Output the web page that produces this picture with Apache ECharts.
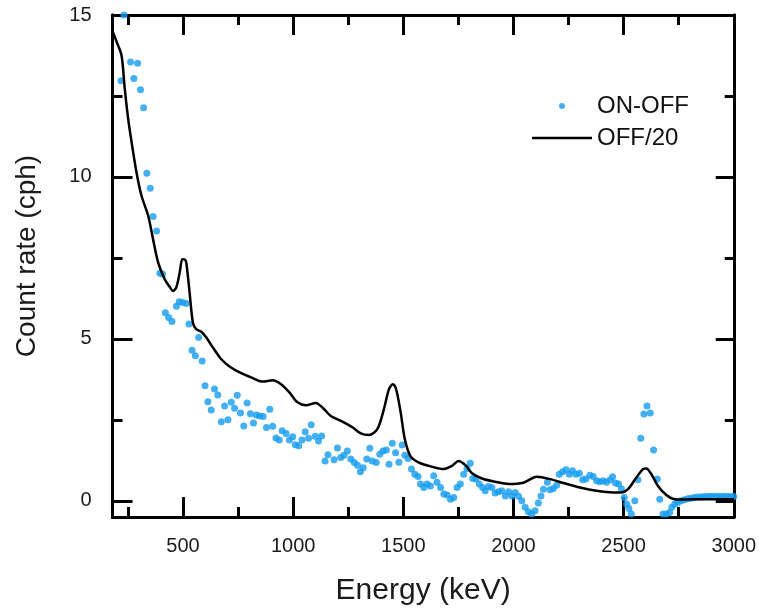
<!DOCTYPE html>
<html>
<head>
<meta charset="utf-8">
<script src="https://cdn.jsdelivr.net/npm/echarts@6/dist/echarts.min.js"></script>
<style>
html,body{margin:0;padding:0;background:#fff;}
#chart{width:759px;height:611px;}
</style>
</head>
<body>
<div id="chart"></div>
<script>
// ON-OFF points: [energy keV, count rate cph]
const onOffEnergy = [219,232,262,277,294,307,321,336,351,364,380,395,407,420,435,450,470,483,498,515,527,541,556,571,587,600,613,628,643,658,674,689,704,719,734,746,761,776,791,806,820,833,848,864,879,894,907,922,937,950,968,983,998,1010,1025,1040,1055,1070,1082,1100,1115,1129,1145,1158,1186,1201,1216,1231,1246,1262,1277,1292,1305,1318,1334,1348,1359,1377,1393,1408,1423,1435,1450,1465,1480,1495,1507,1522,1537,1552,1567,1578,1593,1608,1623,1638,1653,1669,1684,1699,1714,1729,1744,1759,1774,1789,1804,1815,1830,1845,1860,1872,1887,1902,1917,1932,1947,1963,1978,1993,2008,2023,2038,2053,2068,2083,2098,2113,2125,2136,2154,2166,2181,2196,2208,2223,2239,2254,2268,2284,2299,2314,2329,2347,2362,2377,2392,2407,2422,2438,2450,2463,2477,2490,2503,2514,2524,2535,2551,2565,2578,2592,2606,2621,2636,2653,2664,2679,2694,2709,2719,2732,2746,2761,2776,2791,2806,2821,2836,2851,2866,2881,2896,2911,2926,2941,2956,2971,2986,3000];
const onOffRate = [12.97,15.0,13.55,13.04,13.51,12.69,12.14,10.11,9.65,8.78,8.33,7.03,7.0,5.81,5.66,5.54,6.01,6.15,6.12,6.09,5.46,4.65,4.48,5.04,4.32,3.55,3.06,2.80,3.45,3.27,2.44,2.93,2.5,3.04,2.86,3.26,2.71,2.31,3.02,2.69,2.4,2.65,2.62,2.6,2.26,2.83,2.3,1.94,1.88,2.16,2.08,1.88,1.98,1.73,1.70,1.88,2.13,1.93,2.35,1.99,1.85,2.0,1.23,1.42,1.27,1.63,1.34,1.41,1.54,1.29,1.18,1.10,0.9,1.02,1.29,1.62,1.23,1.18,1.44,1.54,1.57,1.13,1.78,1.48,1.19,1.72,1.41,1.31,0.98,0.82,0.75,0.52,0.41,0.52,0.46,0.77,0.57,0.41,0.21,0.18,0.05,0.1,0.41,0.52,0.82,1.0,1.16,0.69,0.67,0.52,0.41,0.31,0.44,0.41,0.24,0.28,0.31,0.15,0.28,0.15,0.26,0.14,0.0,-0.2,-0.34,-0.41,-0.31,-0.07,0.15,0.36,0.57,0.34,0.38,0.48,0.82,0.9,0.96,0.82,0.93,0.82,0.85,0.65,0.67,0.79,0.75,0.62,0.59,0.62,0.57,0.64,0.74,0.55,0.52,0.37,0.1,-0.1,-0.24,-0.41,0.0,0.65,1.93,2.68,2.93,2.71,1.57,0.67,0.05,-0.41,-0.41,-0.36,-0.2,-0.1,-0.05,0.0,0.03,0.06,0.08,0.1,0.12,0.12,0.13,0.13,0.14,0.13,0.14,0.13,0.14,0.13,0.13,0.13];

// OFF/20 curve: [energy keV, count rate cph]
const offEnergy = [183,200,221,236,251,267,289,312,342,364,387,417,440,455,470,485,497,508,515,530,545,560,583,606,636,674,711,764,809,862,907,945,983,1020,1058,1103,1133,1171,1216,1269,1307,1344,1382,1412,1435,1453,1468,1488,1507,1533,1571,1631,1684,1721,1751,1782,1812,1857,1917,1978,2045,2106,2166,2226,2302,2377,2452,2491,2520,2558,2588,2603,2626,2656,2694,2732,2777,2882,3000];
const offRate = [14.45,14.15,13.75,12.7,11.8,11.06,10.14,9.41,8.8,8.08,7.36,6.84,6.6,6.48,6.6,7.05,7.46,7.45,7.35,6.43,5.5,5.3,5.22,5.04,4.73,4.37,4.15,3.94,3.81,3.68,3.72,3.6,3.35,3.04,2.95,3.02,2.88,2.62,2.47,2.27,2.08,2.03,2.21,2.83,3.45,3.6,3.43,2.73,1.9,1.37,1.18,1.05,0.98,1.08,1.23,1.1,0.85,0.69,0.59,0.52,0.56,0.74,0.67,0.55,0.41,0.31,0.26,0.26,0.36,0.72,0.98,1.0,0.82,0.46,0.18,0.05,0.04,0.05,0.05];

const xTickLabels = [500,1000,1500,2000,2500,3000];
const xMajorTicks = [500,1000,1500,2000,2500];
const xMinorTicks = [250,750,1250,1750,2250,2750];
const yTickLabels = [0,5,10,15];
const yMajorTicks = [0,5,10];
const yMinorTicks = [2.5,7.5,12.5];

const FONT = 'Liberation Sans, Arial, sans-serif';
const X_MIN = 180, X_MAX = 3000, Y_MIN = -0.5, Y_MAX = 15;
const plain = v => String(v);

function xAx(pos, ticks, len, labels, extra) {
  return Object.assign({
    type: 'value', position: pos, min: X_MIN, max: X_MAX,
    axisLine: {show: true, onZero: false, lineStyle: {color: '#000', width: 3}},
    axisTick: {show: true, inside: true, length: len, customValues: ticks, lineStyle: {color: '#000', width: 3}},
    axisLabel: labels ? {show: true, customValues: labels, formatter: plain, fontSize: 20, color: '#1a1a1a', fontFamily: FONT, margin: 19} : {show: false},
    splitLine: {show: false}
  }, extra || {});
}
function yAx(pos, ticks, len, labels, extra) {
  return Object.assign({
    type: 'value', position: pos, min: Y_MIN, max: Y_MAX,
    axisLine: {show: true, onZero: false, lineStyle: {color: '#000', width: 3}},
    axisTick: {show: true, inside: true, length: len, customValues: ticks, lineStyle: {color: '#000', width: 3}},
    axisLabel: labels ? {show: true, customValues: labels, formatter: plain, fontSize: 20, color: '#1a1a1a', fontFamily: FONT, margin: 21} : {show: false},
    splitLine: {show: false}
  }, extra || {});
}

const chart = echarts.init(document.getElementById('chart'), null, {renderer: 'canvas'});
chart.setOption({
  animation: false,
  backgroundColor: '#fff',
  grid: {left: 112.5, top: 15, width: 623.5, height: 503, containLabel: false},
  legend: {
    orient: 'vertical', left: 527, top: 89,
    itemWidth: 60, itemHeight: 6, itemGap: 8,
    textStyle: {fontSize: 24, lineHeight: 24, color: '#111', fontFamily: FONT},
    data: [
      {name: 'ON-OFF', icon: 'circle'},
      {name: 'OFF/20', icon: 'path://M0 0H60V2.6H0Z', itemStyle: {color: '#000'}}
    ]
  },
  xAxis: [
    xAx('bottom', xMajorTicks, 20, xTickLabels, {
      name: 'Energy (keV)', nameLocation: 'middle', nameGap: 59,
      nameTextStyle: {fontSize: 30, color: '#1a1a1a', fontFamily: FONT}
    }),
    xAx('bottom', xMinorTicks, 10, null),
    xAx('top', xMajorTicks, 20, null),
    xAx('top', xMinorTicks, 10, null)
  ],
  yAxis: [
    yAx('left', yMajorTicks, 20, yTickLabels, {
      name: 'Count rate (cph)', nameLocation: 'middle', nameGap: 71, nameRotate: 90,
      nameTextStyle: {fontSize: 28, color: '#1a1a1a', fontFamily: FONT, padding: [0, 0, 0, 20]}
    }),
    yAx('left', yMinorTicks, 10, null),
    yAx('right', yMajorTicks, 18, null),
    yAx('right', yMinorTicks, 9, null)
  ],
  series: [
    {
      name: 'ON-OFF', type: 'scatter', xAxisIndex: 0, yAxisIndex: 0,
      symbol: 'circle', symbolSize: 7,
      itemStyle: {color: '#159cf0'},
      data: onOffEnergy.map((e, i) => [e, onOffRate[i]])
    },
    {
      name: 'OFF/20', type: 'line', xAxisIndex: 0, yAxisIndex: 0,
      symbol: 'none', showSymbol: false, smooth: 0.3,
      lineStyle: {color: '#000', width: 2.5},
      itemStyle: {color: '#000'},
      data: offEnergy.map((e, i) => [e, offRate[i]])
    }
  ]
});
</script>
</body>
</html>
